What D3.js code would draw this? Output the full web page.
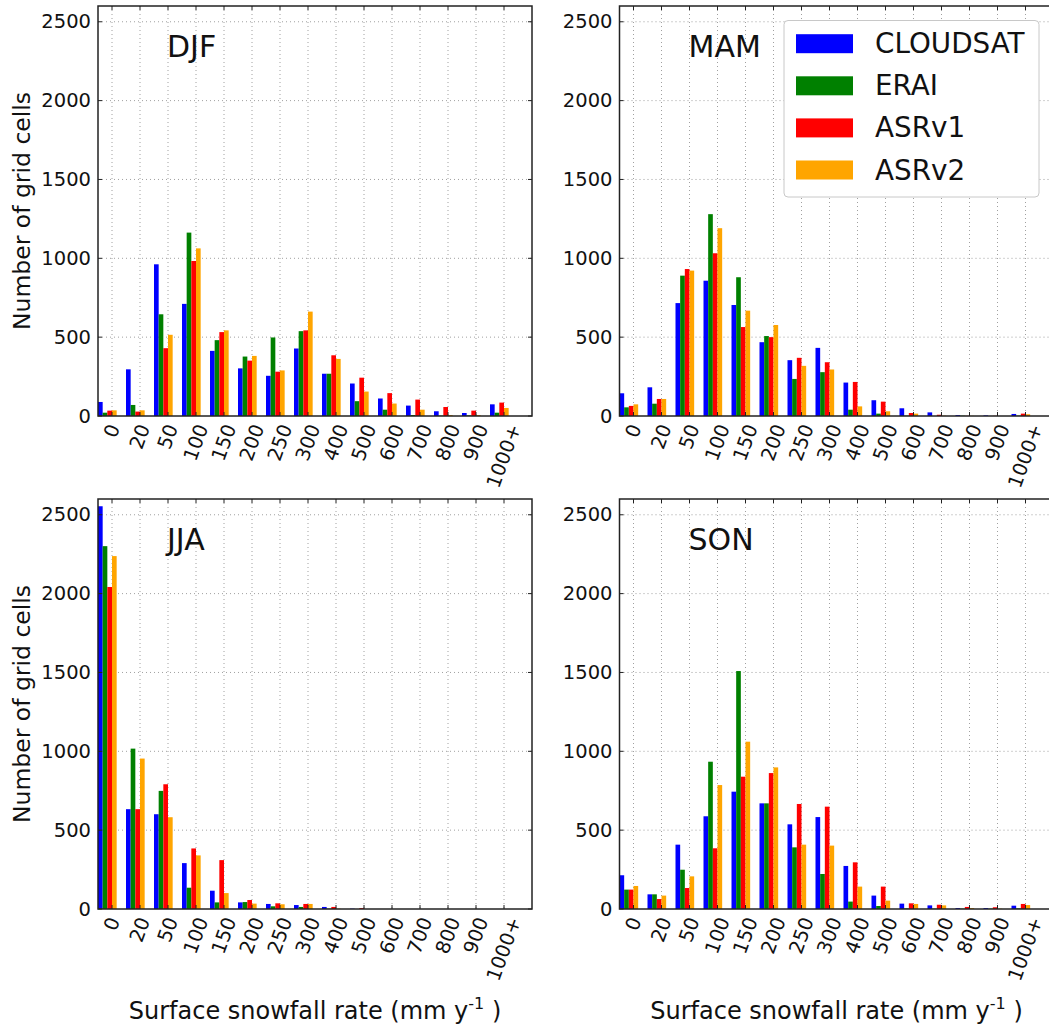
<!DOCTYPE html>
<html>
<head>
<meta charset="utf-8">
<script src="https://cdn.jsdelivr.net/npm/d3@7"></script>
<style>
  html, body { margin: 0; padding: 0; background: #fff; }
  svg { display: block; font-family: "DejaVu Sans", sans-serif; }
</style>
</head>
<body>
<svg id="chart" width="1049" height="1024"></svg>
<script>
// ---- data ----
const categories = ["0","20","50","100","150","200","250","300","400","500","600","700","800","900","1000+"];
const seriesNames = ["CLOUDSAT","ERAI","ASRv1","ASRv2"];
const seriesColors = ["#0000ff","#008000","#ff0000","#ffa500"];
const yTickValues = [0,500,1000,1500,2000,2500];
const seasons = ["DJF","MAM","JJA","SON"];

const djfCloudsat = [89,296,962,711,413,302,255,428,268,206,111,66,30,19,74];
const djfErai     = [21,70,645,1163,481,377,498,538,268,94,40,6,2,4,21];
const djfAsrv1    = [34,28,430,983,532,351,281,543,385,243,145,104,57,34,85];
const djfAsrv2    = [36,36,515,1063,543,381,289,662,362,155,79,40,6,6,51];

const mamCloudsat = [144,182,716,858,704,468,354,432,212,100,49,23,6,4,13];
const mamErai     = [55,78,890,1280,880,507,235,278,40,15,2,0,2,0,2];
const mamAsrv1    = [64,108,932,1032,564,500,369,341,216,91,19,8,1,1,15];
const mamAsrv2    = [74,108,922,1191,668,577,318,295,61,30,15,2,1,0,11];

const jjaCloudsat = [2554,633,601,291,116,42,32,25,13,2,0,0,0,0,0];
const jjaErai     = [2301,1017,749,135,42,44,17,13,2,0,0,0,0,0,0];
const jjaAsrv1    = [2042,633,791,384,310,57,36,32,13,6,0,0,0,0,0];
const jjaAsrv2    = [2238,954,582,340,101,34,30,32,2,0,0,0,0,0,0];

const sonCloudsat = [214,93,408,588,744,670,537,583,273,85,34,23,6,6,21];
const sonErai     = [123,93,249,934,1509,670,391,222,47,19,4,2,2,2,4];
const sonAsrv1    = [123,63,133,385,839,862,666,649,296,142,36,27,13,11,32];
const sonAsrv2    = [146,85,207,786,1061,898,408,402,142,53,32,23,6,2,25];

const seasonData = {
  DJF: [djfCloudsat, djfErai, djfAsrv1, djfAsrv2],
  MAM: [mamCloudsat, mamErai, mamAsrv1, mamAsrv2],
  JJA: [jjaCloudsat, jjaErai, jjaAsrv1, jjaAsrv2],
  SON: [sonCloudsat, sonErai, sonAsrv1, sonAsrv2]
};

// ---- layout ----
const svg = d3.select("#chart");
const panelW = 434, panelH = 410;
const panelPos = {
  DJF: {x: 98, y: 6, col: 0, row: 0},
  MAM: {x: 619.5, y: 6, col: 1, row: 0},
  JJA: {x: 98, y: 499, col: 0, row: 1},
  SON: {x: 619.5, y: 499, col: 1, row: 1}
};
const barW = 1/6;
const tickFs = 19.5;

seasons.forEach(season => {
  const p = panelPos[season];
  const x = d3.scaleLinear().domain([0, 15.5]).range([p.x, p.x + panelW]);
  const y = d3.scaleLinear().domain([0, 2600]).range([p.y + panelH, p.y]);
  const g = svg.append("g");

  // grid
  g.selectAll(".vgrid").data(categories).join("line")
    .attr("x1", (d,i) => x(i + 0.5)).attr("x2", (d,i) => x(i + 0.5))
    .attr("y1", p.y).attr("y2", p.y + panelH)
    .attr("stroke", "#a0a0a0").attr("stroke-width", 1)
    .attr("stroke-dasharray", "1,3");
  g.selectAll(".hgrid").data(yTickValues.filter(v => v > 0)).join("line")
    .attr("x1", p.x).attr("x2", p.x + panelW)
    .attr("y1", d => y(d)).attr("y2", d => y(d))
    .attr("stroke", "#a0a0a0").attr("stroke-width", 1)
    .attr("stroke-dasharray", "1,3");

  // bars
  const data = seasonData[season];
  data.forEach((vals, s) => {
    g.selectAll(".bar" + s).data(vals).join("rect")
      .attr("x", (d,i) => x(i + s * barW))
      .attr("width", x(barW) - x(0))
      .attr("y", d => y(d))
      .attr("height", d => y(0) - y(d))
      .attr("fill", seriesColors[s]);
  });

  // ticks (inward, all four sides)
  const tl = 4;
  categories.forEach((c, i) => {
    const xx = x(i + 0.5);
    g.append("line").attr("x1", xx).attr("x2", xx).attr("y1", p.y + panelH).attr("y2", p.y + panelH - tl).attr("stroke", "#222");
    g.append("line").attr("x1", xx).attr("x2", xx).attr("y1", p.y).attr("y2", p.y + tl).attr("stroke", "#222");
  });
  yTickValues.forEach(v => {
    g.append("line").attr("x1", p.x).attr("x2", p.x + tl).attr("y1", y(v)).attr("y2", y(v)).attr("stroke", "#222");
    g.append("line").attr("x1", p.x + panelW).attr("x2", p.x + panelW - tl).attr("y1", y(v)).attr("y2", y(v)).attr("stroke", "#222");
  });

  // frame
  g.append("rect").attr("x", p.x).attr("y", p.y).attr("width", panelW).attr("height", panelH)
    .attr("fill", "none").attr("stroke", "#222").attr("stroke-width", 1.5);

  // y tick labels
  g.selectAll(".ytl").data(yTickValues).join("text")
    .attr("x", p.x - 7).attr("y", d => y(d))
    .attr("text-anchor", "end").attr("dominant-baseline", "central")
    .attr("font-size", tickFs).attr("fill", "#111")
    .text(d => d);

  // x tick labels, rotated 70 deg, bbox centered on tick
  const ang = 70 * Math.PI / 180;
  g.selectAll(".xtl").data(categories).join("text")
    .attr("text-anchor", "middle").attr("dominant-baseline", "central")
    .attr("font-size", tickFs).attr("fill", "#111")
    .text(d => d)
    .each(function(d, i) {
      const L = this.getComputedTextLength();
      const h = tickFs * 0.9;
      const H = L * Math.sin(ang) + h * Math.cos(ang);
      const cx = x(i + 0.5);
      const cy = p.y + panelH + 6 + H / 2;
      d3.select(this).attr("transform", `translate(${cx},${cy}) rotate(-70)`);
    });

  // season title
  g.append("text").attr("x", p.x + 69).attr("y", p.y + 51)
    .attr("font-size", 30).attr("fill", "#111").text(season);

  // axis labels
  if (p.col === 0) {
    g.append("text")
      .attr("transform", `translate(30,${p.y + panelH / 2}) rotate(-90)`)
      .attr("text-anchor", "middle").attr("font-size", 23.5).attr("fill", "#111")
      .text("Number of grid cells");
  }
  if (p.row === 1) {
    const t = g.append("text")
      .attr("x", p.x + panelW / 2).attr("y", 1019)
      .attr("text-anchor", "middle").attr("font-size", 24).attr("fill", "#111");
    t.append("tspan").text("Surface snowfall rate (mm y");
    t.append("tspan").attr("dy", -10).attr("font-size", 16).text("-1");
    t.append("tspan").attr("dy", 10).text(" )");
  }

  // legend
  if (season === "MAM") {
    const lg = svg.append("g");
    lg.append("rect").attr("x", 784).attr("y", 20.5).attr("width", 255).attr("height", 176.5)
      .attr("rx", 4).attr("fill", "#fff").attr("stroke", "#c8c8c8").attr("stroke-width", 1);
    seriesNames.forEach((n, s) => {
      const cy = 43.7 + s * 42.1;
      lg.append("rect").attr("x", 796).attr("y", cy - 9.5).attr("width", 57).attr("height", 19)
        .attr("fill", seriesColors[s]);
      lg.append("text").attr("x", 875).attr("y", cy).attr("dominant-baseline", "central")
        .attr("font-size", 27.8).attr("fill", "#111").text(n);
    });
  }
});
</script>
</body>
</html>
